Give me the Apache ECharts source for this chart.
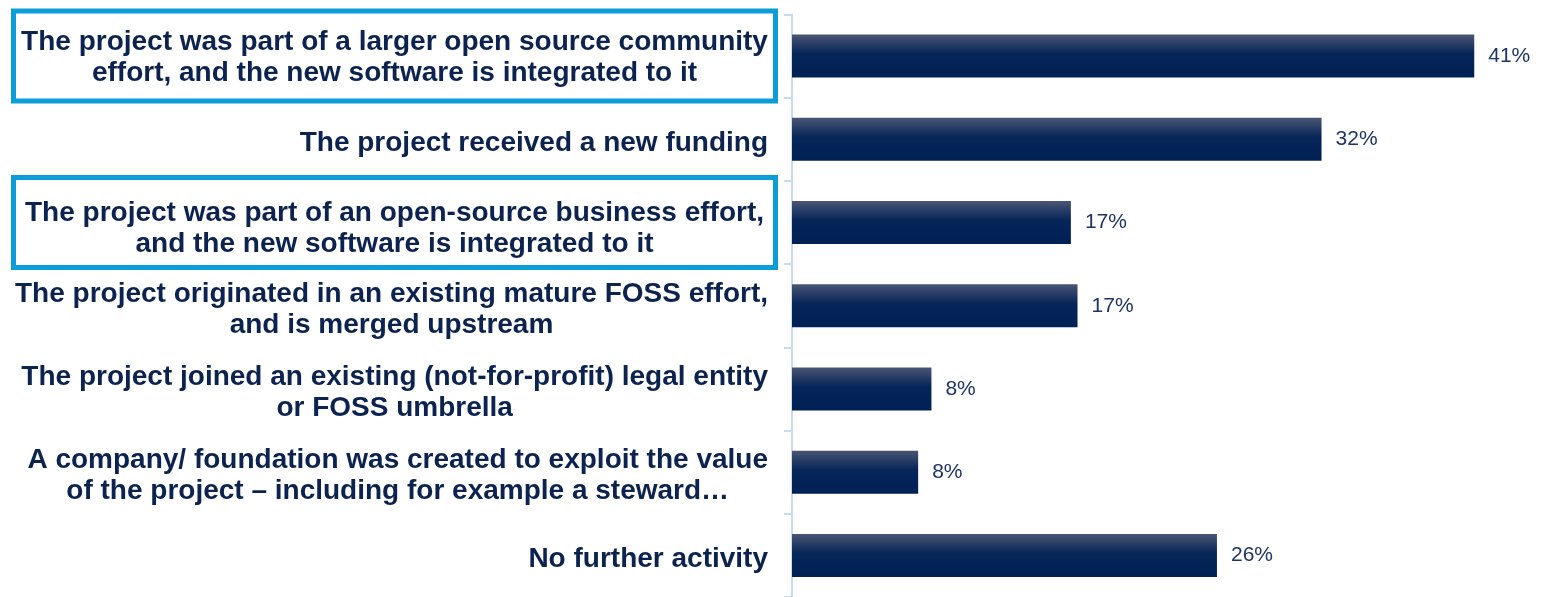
<!DOCTYPE html>
<html>
<head>
<meta charset="utf-8">
<script src="https://cdn.jsdelivr.net/npm/echarts@6/dist/echarts.min.js"></script>
<style>
  html, body { margin: 0; padding: 0; background: #fff; }
  #chart { width: 1555px; height: 597px; }
</style>
</head>
<body>
<div id="chart"></div>
<script>
// categories (top to bottom), line breaks as in the original
var categories = [
  'The project was part of a larger open source community\neffort, and the new software is integrated to it',
  'The project received a new funding',
  'The project was part of an open-source business effort,\nand the new software is integrated to it',
  'The project originated in an existing mature FOSS effort,\nand is merged upstream',
  'The project joined an existing (not-for-profit) legal entity\nor FOSS umbrella',
  'A company/ foundation was created to exploit the value\nof the project \u2013 including for example a steward\u2026',
  'No further activity'
]
// share of respondents, %
var values = [41.1, 31.9, 16.8, 17.2, 8.4, 7.6, 25.6]
// the answers outlined in blue
var highlighted = [0, 2]

var navy = '#0c2350'
var boxBlue = '#0a9dd8'

// category labels: lines centred on each other, block right aligned
var yData = categories.map(function (name, i) {
  var item = {value: name}
  if (highlighted.indexOf(i) >= 0) {
    item.textStyle = {
      width: 762,
      borderColor: boxBlue,
      borderWidth: 5,
      padding: i === 0 ? [16, 0, 12, 0] : [20, 0, 8, 0]
    }
  }
  return item
})

var myChart = echarts.init(document.getElementById('chart'))
var option = {
  animation: false,
  grid: {
    left: 792,
    top: 14.5,
    height: 587,
    right: 16,
    containLabel: false
  },
  xAxis: {
    type: 'value',
    min: 0,
    max: 45,
    show: false
  },
  yAxis: {
    type: 'category',
    inverse: true,
    data: yData,
    axisLine: {
      show: true,
      lineStyle: {color: '#c6daf2', width: 2}
    },
    axisTick: {
      show: true,
      length: 8,
      lineStyle: {color: '#c6daf2', width: 2}
    },
    axisLabel: {
      margin: 16.5,
      fontFamily: 'Liberation Sans, Arial, sans-serif',
      fontWeight: 'bold',
      fontSize: 28,
      lineHeight: 31,
      color: navy,
      align: 'right',
      // extra top padding pushes the text down a little, like the original
      padding: [8, 7.5, 0, 0],
      formatter: function (value) {
        return value.split('\n').map(function (line) {
          return '{c|' + line + '}'
        }).join('\n')
      },
      rich: {
        c: {
          align: 'center',
          fontFamily: 'Liberation Sans, Arial, sans-serif',
          fontWeight: 'bold',
          fontSize: 28,
          lineHeight: 31,
          color: navy
        }
      }
    }
  },
  series: [
    {
      type: 'bar',
      data: values,
      barWidth: 43,
      itemStyle: {
        color: new echarts.graphic.LinearGradient(0, 0, 0, 1, [
          {offset: 0, color: '#4a5574'},
          {offset: 0.45, color: '#062558'},
          {offset: 1, color: '#002155'}
        ])
      },
      label: {
        show: true,
        position: 'right',
        distance: 14,
        fontFamily: 'Liberation Sans, Arial, sans-serif',
        fontSize: 21,
        color: '#1d3564',
        formatter: function (p) {
          return Math.round(p.value) + '%'
        }
      }
    }
  ]
}
myChart.setOption(option)
</script>
</body>
</html>
